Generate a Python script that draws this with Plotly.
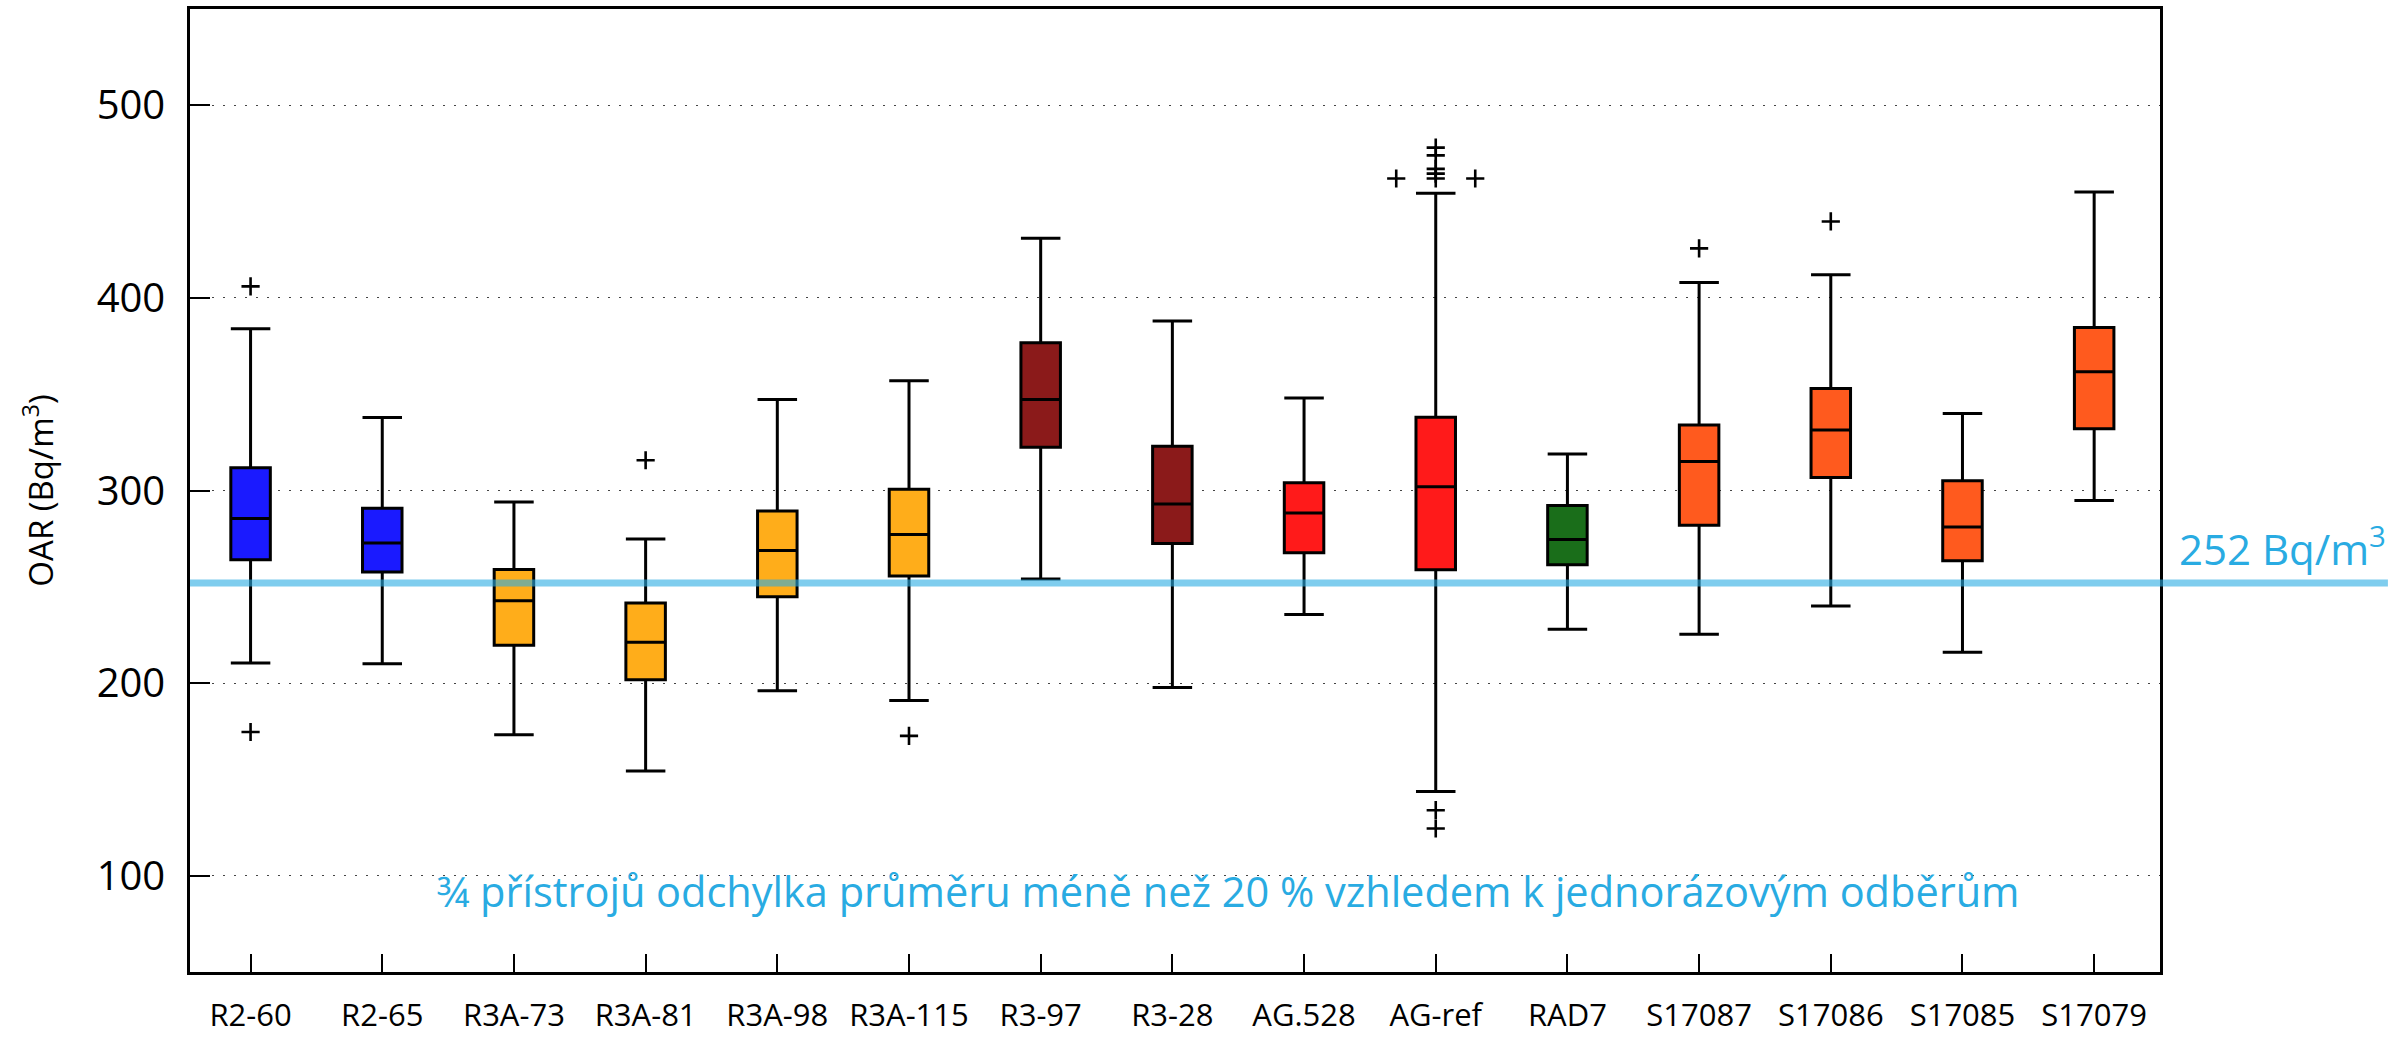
import plotly.graph_objects as go
from collections import Counter

categories = ["R2-60", "R2-65", "R3A-73", "R3A-81", "R3A-98", "R3A-115", "R3-97", "R3-28",
              "AG.528", "AG-ref", "RAD7", "S17087", "S17086", "S17085", "S17079"]
lower_whisker = [210.4, 210.0, 173.2, 154.3, 196.0, 191.0, 254.0, 197.7, 235.6, 143.7, 228.0, 225.3, 240.0, 216.0, 294.8]
q1_values     = [264.0, 257.7, 219.6, 201.8, 244.8, 255.6, 322.5, 272.5, 267.7, 258.8, 261.4, 282.0, 306.7, 263.5, 332.0]
median_values = [285.5, 272.7, 242.7, 221.2, 268.8, 277.2, 347.2, 293.0, 288.3, 302.0, 274.6, 315.0, 331.4, 281.0, 361.7]
q3_values     = [311.8, 290.8, 259.0, 241.6, 289.4, 300.6, 376.7, 323.0, 304.0, 338.0, 292.2, 334.0, 353.0, 305.0, 384.6]
upper_whisker = [384.0, 337.9, 294.0, 274.8, 347.3, 357.0, 431.0, 388.0, 348.0, 454.4, 319.0, 408.0, 412.0, 340.0, 455.0]
outliers = {
    "R2-60": [406.0, 174.6],
    "R3A-81": [315.7],
    "R3A-115": [172.6],
    "AG-ref": [478.0, 474.0, 467.0, 464.5, 462.0, 462.0, 462.0, 134.0, 124.5],
    "S17087": [425.7],
    "S17086": [439.7],
}
box_colors = ["#1A1AFF", "#1A1AFF", "#FFAD1A", "#FFAD1A", "#FFAD1A", "#FFAD1A", "#8B1A1A", "#8B1A1A",
              "#FF1A1A", "#FF1A1A", "#1A6E1A", "#FF5A1E", "#FF5A1E", "#FF5A1E", "#FF5A1E"]
reference_level = 252
reference_label = "252 Bq/m<sup>3</sup>"
note_text = "¾ přístrojů odchylka průměru méně než 20 % vzhledem k jednorázovým odběrům"

FONT = "Open Sans"

fig = go.Figure()
for i, name in enumerate(categories):
    fig.add_trace(go.Box(
        x=[i], q1=[q1_values[i]], median=[median_values[i]], q3=[q3_values[i]],
        lowerfence=[lower_whisker[i]], upperfence=[upper_whisker[i]],
        name=name, width=0.3, whiskerwidth=1,
        fillcolor=box_colors[i], line=dict(color="black", width=3),
        boxpoints=False, showlegend=False, hoverinfo="skip",
    ))

# outliers; equal values are spread side by side as gnuplot does
ox, oy = [], []
spread = 0.3
for name, vals in outliers.items():
    i = categories.index(name)
    counts = Counter(vals)
    seen = Counter()
    for v in vals:
        k = counts[v]
        j = seen[v]
        seen[v] += 1
        order = [0] + [s * m for m in range(1, k) for s in (-1, 1)]
        ox.append(i + order[j] * spread if k > 1 else i)
        oy.append(v)
fig.add_trace(go.Scatter(x=ox, y=oy, mode="markers", showlegend=False, hoverinfo="skip",
                         marker=dict(symbol="cross-thin", size=13, line=dict(color="black", width=2.6))))

fig.add_shape(type="line", xref="paper", yref="y", x0=0, x1=1.1157, y0=reference_level, y1=reference_level,
              line=dict(color="rgba(41,171,226,0.6)", width=7), layer="above")
fig.add_annotation(xref="paper", yref="y", x=1.0086, y=reference_level, yshift=36, xanchor="left", yanchor="middle",
                   text=reference_label, showarrow=False,
                   font=dict(family=FONT, size=42, color="#29ABE2"))
fig.add_annotation(xref="paper", yref="y", x=0.527, y=92, xanchor="center", yanchor="middle",
                   text=note_text, showarrow=False,
                   font=dict(family=FONT, size=41.5, color="#29ABE2"))

fig.update_layout(
    width=2407, height=1042,
    margin=dict(l=190, r=247, t=6, b=70),
    paper_bgcolor="white", plot_bgcolor="white",
    boxmode="overlay",
    font=dict(family=FONT, color="black"),
)
fig.update_xaxes(
    range=[-0.46, 14.5], tickmode="array", tickvals=list(range(len(categories))), ticktext=categories,
    showgrid=False, zeroline=False, showline=True, linecolor="black", linewidth=2.5, mirror=True,
    ticks="inside", ticklen=18, tickwidth=2, tickcolor="black", ticklabelstandoff=14,
    tickfont=dict(size=31, family=FONT),
)
fig.update_yaxes(
    range=[50, 550], tickvals=[100, 200, 300, 400, 500],
    showgrid=True, gridcolor="#444", gridwidth=1, griddash="2px,9px",
    zeroline=False, showline=True, linecolor="black", linewidth=2.5, mirror=True,
    ticks="inside", ticklen=20, tickwidth=2, tickcolor="black", ticklabelstandoff=14,
    tickfont=dict(size=40, family=FONT),
    title=dict(text="OAR (Bq/m<sup>3</sup>)", font=dict(size=33, family=FONT), standoff=34),
)

fig.write_html("out.html")
